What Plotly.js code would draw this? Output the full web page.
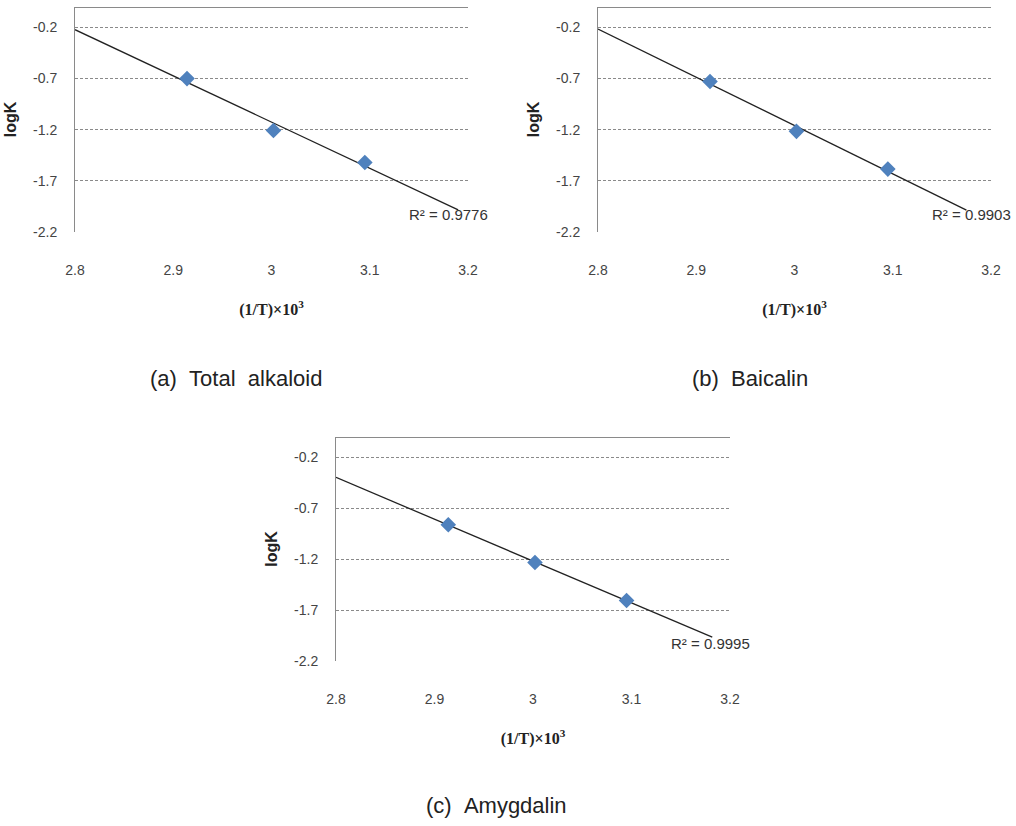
<!DOCTYPE html>
<html>
<head>
<meta charset="utf-8">
<script src="https://cdn.plot.ly/plotly-3.0.1.min.js"></script>
<style>html,body{margin:0;padding:0;background:#fff;}#chart{width:1016px;height:826px;}</style>
</head>
<body>
<div id="chart"></div>
<script>
// ---- data ----
var invT = [2.914, 3.002, 3.095];              // (1/T) x 10^3
var logK_alkaloid = [-0.70, -1.207, -1.52];
var logK_baicalin = [-0.729, -1.216, -1.585];
var logK_amygdalin = [-0.862, -1.232, -1.606];
var r2Labels = ['R² = 0.9776', 'R² = 0.9903', 'R² = 0.9995'];
var captions = ['(a)\u00A0\u00A0Total\u00A0\u00A0alkaloid', '(b)\u00A0\u00A0Baicalin', '(c)\u00A0\u00A0Amygdalin'];
var trendFrom = [2.8, 2.8, 2.8];
var trendTo = [3.19, 3.175, 3.182];
var xTicks = [2.8, 2.9, 3.0, 3.1, 3.2];
var xTickText = ['2.8', '2.9', '3', '3.1', '3.2'];
var yTicks = [-2.2, -1.7, -1.2, -0.7, -0.2];
var yTickText = ['-2.2', '-1.7', '-1.2', '-0.7', '-0.2'];

function fit(x, y) {
  var n = x.length, mx = 0, my = 0;
  for (var i = 0; i < n; i++) { mx += x[i]; my += y[i]; }
  mx /= n; my /= n;
  var sxy = 0, sxx = 0;
  for (var i = 0; i < n; i++) { sxy += (x[i] - mx) * (y[i] - my); sxx += (x[i] - mx) * (x[i] - mx); }
  var b = sxy / sxx;
  return {b: b, a: my - b * mx};
}

var series = [logK_alkaloid, logK_baicalin, logK_amygdalin];
var W = 1016, H = 826;
var boxes = [
  {x0: 75, x1: 468, y0: 7, y1: 232},
  {x0: 598, x1: 991, y0: 7, y1: 232},
  {x0: 336, x1: 730, y0: 437, y1: 661}
];
var capPos = [[236, 378], [750, 378], [496, 805]];

var tickFont = {family: 'Liberation Sans, Arial, sans-serif', size: 14, color: '#444'};
var data = [], layout = {
  width: W, height: H, margin: {l: 0, r: 0, t: 0, b: 0},
  paper_bgcolor: '#fff', plot_bgcolor: '#fff', showlegend: false,
  annotations: []
};

series.forEach(function (ys, i) {
  var sfx = i === 0 ? '' : String(i + 1);
  var xa = 'x' + sfx, ya = 'y' + sfx;
  var f = fit(invT, ys);
  data.push({
    x: [trendFrom[i], trendTo[i]],
    y: [f.a + f.b * trendFrom[i], f.a + f.b * trendTo[i]],
    xaxis: xa, yaxis: ya, mode: 'lines', type: 'scatter',
    line: {color: '#222', width: 1.3}, hoverinfo: 'skip'
  });
  data.push({
    x: invT, y: ys, xaxis: xa, yaxis: ya, mode: 'markers', type: 'scatter',
    marker: {symbol: 'diamond', size: 12, color: '#4F81BD', line: {width: 0}}
  });
  var b = boxes[i];
  layout['xaxis' + sfx] = {
    domain: [b.x0 / W, b.x1 / W], anchor: ya, range: [2.8, 3.2],
    tickvals: xTicks, ticktext: xTickText, showgrid: false, showline: false, zeroline: false,
    ticks: '', ticklabelstandoff: 28, tickfont: tickFont,
    title: {text: '(1/T)×10<sup>3</sup>', standoff: 26,
      font: {family: 'Liberation Serif, Times New Roman, serif', size: 16, color: '#222', weight: 'bold'}}
  };
  layout['yaxis' + sfx] = {
    domain: [1 - b.y1 / H, 1 - b.y0 / H], anchor: xa, range: [-2.2, 0],
    tickvals: yTicks, ticktext: yTickText, showgrid: true, gridcolor: '#8a8a8a', griddash: '3px,2px', gridwidth: 1,
    showline: true, linecolor: '#8a8a8a', linewidth: 1,
    zeroline: true, zerolinecolor: '#8a8a8a', zerolinewidth: 1,
    ticks: '', ticklabelstandoff: 14, tickfont: tickFont,
    title: {text: 'logK', standoff: 12,
      font: {family: 'Liberation Sans, Arial, sans-serif', size: 16, color: '#222', weight: 'bold'}}
  };
  layout.annotations.push({
    xref: xa, yref: ya, x: 3.18, y: -2.03, text: r2Labels[i], showarrow: false,
    xanchor: 'center', yanchor: 'middle',
    font: {family: 'Liberation Sans, Arial, sans-serif', size: 15, color: '#333'}
  });
  layout.annotations.push({
    xref: 'paper', yref: 'paper', x: capPos[i][0] / W, y: 1 - capPos[i][1] / H,
    text: captions[i], showarrow: false, xanchor: 'center', yanchor: 'middle',
    font: {family: 'Liberation Sans, Arial, sans-serif', size: 22, color: '#222'}
  });
});

Plotly.newPlot('chart', data, layout, {displayModeBar: false, staticPlot: true});
</script>
</body>
</html>
